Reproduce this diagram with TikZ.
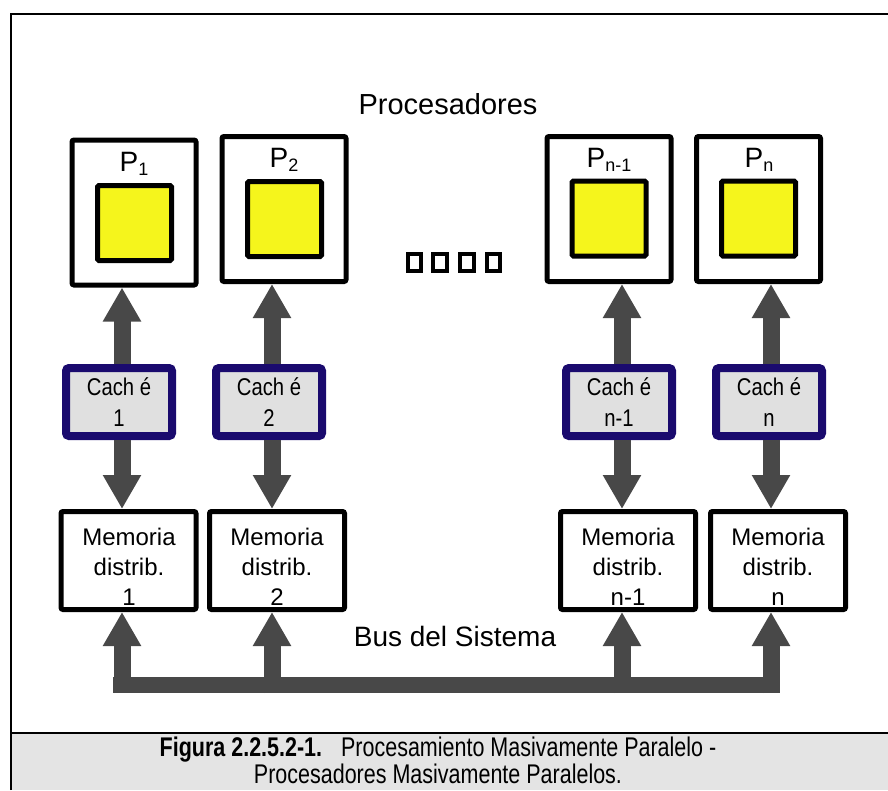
\documentclass[tikz,border=0pt]{standalone}
\usepackage{fontspec}
\setmainfont{Liberation Sans}
\usetikzlibrary{arrows.meta}
\definecolor{arrowgray}{RGB}{72,72,72}
\definecolor{cachenavy}{RGB}{26,10,110}
\definecolor{cachefill}{RGB}{224,224,224}
\definecolor{procyellow}{RGB}{245,245,28}
\definecolor{capfill}{RGB}{228,228,228}
\newcommand{\psubx}[1]{P\raisebox{-4pt}{\fontsize{18}{18}\selectfont #1}}
\newcommand{\stk}[1]{\begin{tabular}{@{}c@{}}#1\end{tabular}}
\begin{document}
\begin{tikzpicture}[x=1pt,y=-1pt,
  proc/.style={draw, line width=5pt, rounded corners=2pt, fill=white, minimum width=124pt, minimum height=145pt, inner sep=0pt},
  core/.style={draw, line width=5pt, rounded corners=1.5pt, fill=procyellow, minimum width=74pt, minimum height=75pt, inner sep=0pt},
  cachebox/.style={draw=cachenavy, line width=8pt, rounded corners=3pt, fill=cachefill, minimum width=106pt, minimum height=68pt, inner sep=0pt},
  cachetext/.style={inner sep=0pt, font=\fontsize{22}{27.3}\selectfont},
  membox/.style={draw, line width=5pt, rounded corners=2pt, fill=white, minimum width=135pt, minimum height=98pt, inner sep=0pt},
  memtext/.style={align=center, inner sep=0pt, font=\fontsize{24}{30}\selectfont},
  plabel/.style={inner sep=0pt, font=\fontsize{28}{28}\selectfont},
  sqbox/.style={draw, line width=3.8pt, minimum width=13.5pt, minimum height=17.5pt, inner sep=0pt},
  bigarrow/.style={draw=arrowgray, line width=17pt, -{Triangle[length=34pt,width=36pt]}},
  busline/.style={draw=arrowgray, line width=16pt}]
\useasboundingbox (0,0) rectangle (888,790);
% frame and caption area
\fill[capfill] (11,733) rectangle (888,790);
\draw[line width=2.5pt] (11,790) -- (11,14) -- (888,14);
\draw[line width=2.5pt] (11,733) -- (888,733);
% processors
\node[proc] (p1) at (134,212.5) {};
\node[proc] (p2) at (284,209) {};
\node[proc] (p3) at (609,209) {};
\node[proc] (p4) at (758.5,209) {};
\node[core] (y1) at (134.5,223) {};
\node[core] (y2) at (284.5,219) {};
\node[core] (y3) at (609,218.5) {};
\node[core] (y4) at (758.5,218.5) {};
\node[plabel] (l1) at (134,164) {\psubx{1}};
\node[plabel] (l2) at (284,160) {\psubx{2}};
\node[plabel] (l3) at (609,160) {\psubx{n-1}};
\node[plabel] (l4) at (759,160) {\psubx{n}};
\node[inner sep=0pt, font=\fontsize{29}{29}\selectfont] (title) at (448,104) {Procesadores};
% dots
\node[sqbox] (s1) at (414.5,262.5) {};
\node[sqbox] (s2) at (440,262.5) {};
\node[sqbox] (s3) at (467,262.5) {};
\node[sqbox] (s4) at (493.5,262.5) {};
% caches
\node[cachebox] (c1) at (119,402) {};
\node[cachebox] (c2) at (269,402) {};
\node[cachebox] (c3) at (619,402) {};
\node[cachebox] (c4) at (769,402) {};
\node[cachetext] (ct1) at (119,405) {\scalebox{0.92}[1.1]{\stk{Cach é\\1}}};
\node[cachetext] (ct2) at (269,405) {\scalebox{0.92}[1.1]{\stk{Cach é\\2}}};
\node[cachetext] (ct3) at (619,405) {\scalebox{0.92}[1.1]{\stk{Cach é\\n-1}}};
\node[cachetext] (ct4) at (769,405) {\scalebox{0.92}[1.1]{\stk{Cach é\\n}}};
% memories
\node[membox] (m1) at (128.5,560.5) {};
\node[membox] (m2) at (277,560.5) {};
\node[membox] (m3) at (628,560.5) {};
\node[membox] (m4) at (778,560.5) {};
\node[memtext] (t1) at (129,567) {Memoria\\distrib.\\1};
\node[memtext] (t2) at (277,567) {Memoria\\distrib.\\2};
\node[memtext] (t3) at (628,567) {Memoria\\distrib.\\n-1};
\node[memtext] (t4) at (778,567) {Memoria\\distrib.\\n};
% columns on the bus
\coordinate (a1) at (122,685);
\coordinate (a2) at (272,685);
\coordinate (a3) at (622,685);
\coordinate (a4) at (771,685);
\coordinate (busL) at (113,685);
\coordinate (busR) at (780,685);
\foreach \i in {1,2,3,4}{
  \draw[bigarrow] (a\i |- c\i.north) -- (a\i |- p\i.south);
  \draw[bigarrow] (a\i |- c\i.south) -- (a\i |- m\i.north);
  \draw[bigarrow] ([yshift=-8pt]a\i) -- (a\i |- m\i.south);
}
\draw[busline] (busL) -- (busR);
\node[inner sep=0pt, font=\fontsize{28}{28}\selectfont] (buslabel) at (455,636) {Bus del Sistema};
% caption
\node[inner sep=0pt, font=\fontsize{25}{23}\selectfont] (cap) at (438,764) {\scalebox{0.86}[1.08]{\stk{\textbf{Figura 2.2.5.2-1.}\hspace{22pt}Procesamiento Masivamente Paralelo -\\Procesadores Masivamente Paralelos.}}};
\end{tikzpicture}
\end{document}
